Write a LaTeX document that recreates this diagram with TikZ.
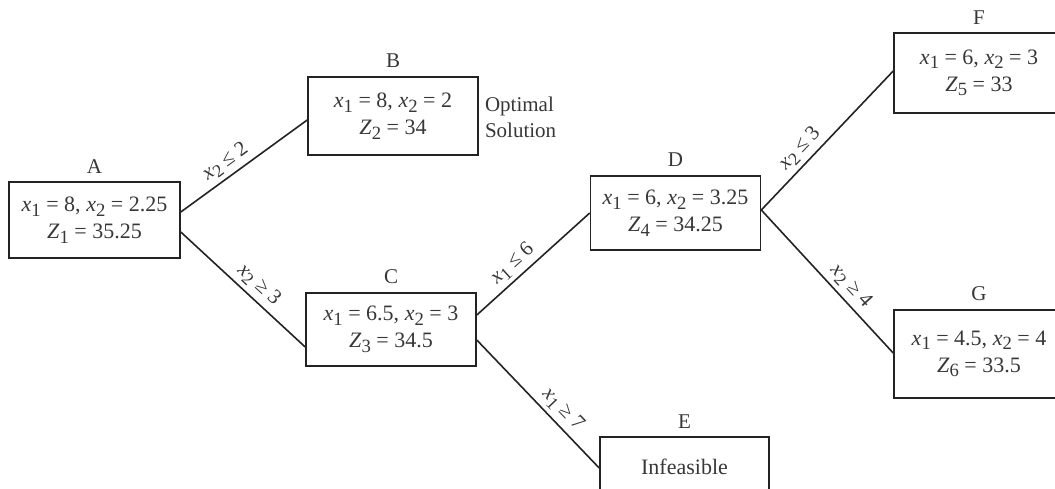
\documentclass[tikz,border=0pt]{standalone}
\usepackage{fontspec}
\setmainfont{Liberation Serif}
\usetikzlibrary{calc}
\newcommand\sbs[1]{\raisebox{-0.45ex}{\scalebox{0.85}{#1}}}
\definecolor{ink}{RGB}{55,55,55}
\definecolor{edgec}{RGB}{35,35,35}
\begin{document}
\begin{tikzpicture}[x=1pt,y=-1pt,
  box/.style={draw=edgec, line width=1.6pt, minimum width=170pt, align=center,
    inner sep=0pt, text=ink, font=\fontsize{22}{27}\selectfont},
  tag/.style={inner sep=0pt, label distance=8pt, text=ink, font=\fontsize{21}{24}\selectfont},
  conn/.style={draw=edgec, line width=1.6pt},
  lab/.style={font=\fontsize{21}{23}\selectfont, text=ink, sloped, above=2pt, inner sep=2pt},
  note/.style={align=left, inner sep=0pt, text=ink, font=\fontsize{21}{26}\selectfont}]
\useasboundingbox (0,0) rectangle (1055,488);
\clip (0,0) rectangle (1055,488);

\node[box, minimum width=171pt, minimum height=76pt, label={[tag]above:A}] (A) at (94.5,220)
  {\textit{x}\sbs{1} = 8, \textit{x}\sbs{2} = 2.25\\ \textit{Z}\sbs{1} = 35.25};
\node[box, minimum height=78pt, label={[tag]above:B}] (B) at (393,116)
  {\textit{x}\sbs{1} = 8, \textit{x}\sbs{2} = 2\\ \textit{Z}\sbs{2} = 34};
\node[note, anchor=west] (opt) at ([xshift=6pt,yshift=-1pt]B.east) {Optimal\\Solution};
\node[box, minimum height=73pt, label={[tag]above:C}] (C) at (391,329.5)
  {\textit{x}\sbs{1} = 6.5, \textit{x}\sbs{2} = 3\\ \textit{Z}\sbs{3} = 34.5};
\node[box, minimum height=74pt, label={[tag]above:D}] (D) at (675.5,213)
  {\textit{x}\sbs{1} = 6, \textit{x}\sbs{2} = 3.25\\ \textit{Z}\sbs{4} = 34.25};
\node[box, minimum height=80pt, label={[tag]above:F}] (F) at (979,73)
  {\textit{x}\sbs{1} = 6, \textit{x}\sbs{2} = 3\\ \textit{Z}\sbs{5} = 33};
\node[box, minimum height=88pt, label={[tag]above:G}] (G) at (979,354)
  {\textit{x}\sbs{1} = 4.5, \textit{x}\sbs{2} = 4\\ \textit{Z}\sbs{6} = 33.5};
\node[box, minimum width=169pt, minimum height=60pt, label={[tag]above:E}] (E) at (684.5,467)
  {Infeasible};

\draw[conn] ([yshift=8pt]A.east) -- node[lab, pos=0.42] {\textit{x}\sbs{2} ≤ 2} ([yshift=-4pt]B.west);
\draw[conn] ([yshift=-12pt]A.east) -- node[lab, pos=0.55] {\textit{x}\sbs{2} ≥ 3} ([yshift=-17.5pt]C.west);
\draw[conn] ([yshift=14.5pt]C.east) -- node[lab, pos=0.4] {\textit{x}\sbs{1} ≤ 6} (D.west);
\draw[conn] ([yshift=-10.5pt]C.east) -- node[lab, pos=0.62] {\textit{x}\sbs{1} ≥ 7} ([yshift=-1pt]E.west);
\draw[conn] ([yshift=3pt]D.east) -- node[lab, pos=0.37] {\textit{x}\sbs{2} ≤ 3} ([yshift=2pt]F.west);
\draw[conn] ([yshift=3pt]D.east) -- node[lab, pos=0.6] {\textit{x}\sbs{2} ≥ 4} ([yshift=1pt]G.west);
\end{tikzpicture}
\end{document}
